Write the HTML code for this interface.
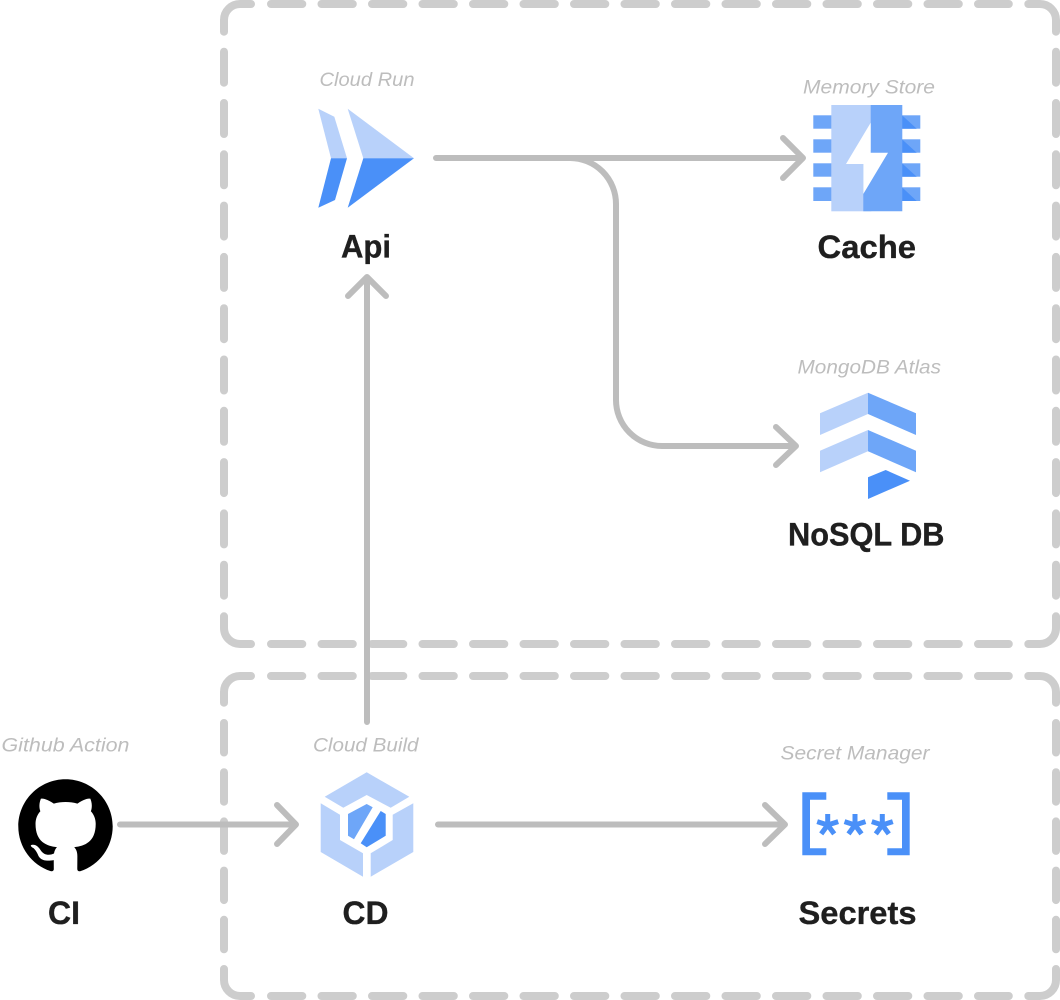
<!DOCTYPE html>
<html lang="en">
<head>
<meta charset="utf-8">
<title>Architecture diagram</title>
<style>
html,body{margin:0;padding:0;background:#fff;width:1060px;height:1000px;overflow:hidden}
svg{display:block}
.b{font-family:"Liberation Sans",sans-serif;font-weight:700;font-size:32px;fill:#1f1f1f;stroke:#1f1f1f;stroke-width:.35px}
.i{font-family:"Liberation Sans",sans-serif;font-style:italic;font-size:19px;fill:#bdbdbd}
.dh{stroke:#cdcdcd;stroke-width:8;stroke-linecap:round;fill:none;stroke-dasharray:31.3 19.2}
.dv{stroke:#cdcdcd;stroke-width:8;stroke-linecap:round;fill:none;stroke-dasharray:31 20.3}
.dw{stroke:#cdcdcd;stroke-width:8;stroke-linecap:round;fill:none;stroke-dasharray:29.5 19.7}
.c{stroke:#cdcdcd;stroke-width:8;stroke-linecap:round;stroke-linejoin:round;fill:none}
.a{stroke:#bdbdbd;stroke-width:6;stroke-linecap:round;stroke-linejoin:round;fill:none}
.l{fill:#b8d1fa}.m{fill:#6ea6f8}.d{fill:#4a90f8}
.s{stroke:#4a90f8;stroke-width:5;stroke-linecap:butt;fill:none}
</style>
</head>
<body>
<svg width="1060" height="1000" viewBox="0 0 1060 1000" xmlns="http://www.w3.org/2000/svg">
  <!-- top dashed box -->
  <path class="c" d="M224 31.7V20A16 16 0 0 1 240 4H251"/>
  <path class="c" d="M1028.3 4H1040A16 16 0 0 1 1056 20V31.7"/>
  <path class="c" d="M224 616.3V628A16 16 0 0 0 240 644H251"/>
  <path class="c" d="M1028.3 644H1040A16 16 0 0 0 1056 628V616.3"/>
  <line class="dh" x1="271" y1="4" x2="1008.8" y2="4"/>
  <line class="dh" x1="271" y1="644" x2="1008.8" y2="644"/>
  <line class="dv" x1="224" y1="51.7" x2="224" y2="595.7"/>
  <line class="dv" x1="1056" y1="51.7" x2="1056" y2="595.7"/>

  <!-- bottom dashed box -->
  <path class="c" d="M224 702.7V692A16 16 0 0 1 240 676H251"/>
  <path class="c" d="M1028.3 676H1040A16 16 0 0 1 1056 692V702.7"/>
  <path class="c" d="M224 969V980A16 16 0 0 0 240 996H251"/>
  <path class="c" d="M1028.3 996H1040A16 16 0 0 0 1056 980V969"/>
  <line class="dh" x1="271" y1="676" x2="1008.8" y2="676"/>
  <line class="dh" x1="271" y1="996" x2="1008.8" y2="996"/>
  <line class="dw" x1="224" y1="723" x2="224" y2="949.3"/>
  <line class="dw" x1="1056" y1="723" x2="1056" y2="949.3"/>

  <!-- connectors -->
  <path class="a" d="M436 158H802M783 138L803 158L783 178"/>
  <path class="a" d="M570 158A46 46 0 0 1 616 204V400A46 46 0 0 0 662 446H795M776 427L796 446L776 465"/>
  <path class="a" d="M367 722V278M348 296L367 277L386 296"/>
  <path class="a" d="M120 824.5H293M277 805L296 824.5L277 844"/>
  <path class="a" d="M438 824.5H784M765 805L785 824.5L765 844"/>

  <!-- Cloud Run -->
  <polygon class="l" points="318.3,108.7 334.3,116.7 347,158.3 331,158.3"/>
  <polygon class="d" points="331,158.3 347,158.3 335,200 318.3,207.7"/>
  <polygon class="l" points="347.7,108.7 414,158.3 363.3,158.3"/>
  <polygon class="d" points="363.3,158.3 414,158.3 347.7,207.7"/>

  <!-- Memory Store -->
  <rect class="m" x="813.3" y="115.3" width="18.5" height="13.4"/>
  <rect class="m" x="813.3" y="139.3" width="18.5" height="13.4"/>
  <rect class="m" x="813.3" y="163.3" width="18.5" height="13.4"/>
  <rect class="m" x="813.3" y="187.3" width="18.5" height="13.7"/>
  <rect class="m" x="902" y="115.3" width="18.3" height="13.4"/>
  <rect class="m" x="902" y="139.3" width="18.3" height="13.4"/>
  <rect class="m" x="902" y="163.3" width="18.3" height="13.4"/>
  <rect class="m" x="902" y="187.3" width="18.3" height="13.7"/>
  <polygon class="d" points="902,115.3 916.7,128.7 902,128.7"/>
  <polygon class="d" points="902,139.3 916.7,152.7 902,152.7"/>
  <polygon class="d" points="902,163.3 916.7,176.7 902,176.7"/>
  <polygon class="d" points="902,187.3 916.7,201 902,201"/>
  <rect class="l" x="831.3" y="105" width="40" height="106.3"/>
  <polygon class="m" points="870.7,105 902.3,105 902.3,211.3 863.3,211.3 863.3,164 870.7,150"/>
  <polygon fill="#fff" points="870.7,122.7 846,164 863.3,164 863.3,194 888,152.7 870.7,152.7"/>

  <!-- MongoDB Atlas -->
  <polygon class="l" points="820,413.3 868,392.7 868,414 820,435"/>
  <polygon class="m" points="868,392.7 916,413.3 916,435 868,414"/>
  <polygon class="l" points="820,450.7 868,430 868,451.3 820,472.3"/>
  <polygon class="m" points="868,430 916,450.7 916,472.3 868,451.3"/>
  <polygon class="d" points="868,477.3 885.7,470 910,480.7 868,499"/>

  <!-- GitHub -->
  <circle cx="65.5" cy="826" r="47.2" fill="#fff"/>
  <g transform="translate(18.3 779.2) scale(5.9)">
    <path fill="#000" d="M8 0C3.58 0 0 3.58 0 8c0 3.54 2.29 6.53 5.47 7.59.4.07.55-.17.55-.38 0-.19-.01-.82-.01-1.49-2.01.37-2.53-.49-2.69-.94-.09-.23-.48-.94-.82-1.13-.28-.15-.68-.52-.01-.53.63-.01 1.08.58 1.23.82.72 1.21 1.87.87 2.33.66.07-.52.28-.87.51-1.07-1.78-.2-3.64-.89-3.64-3.95 0-.87.31-1.59.82-2.15-.08-.2-.36-1.02.08-2.12 0 0 .67-.21 2.2.82.64-.18 1.32-.27 2-.27.68 0 1.36.09 2 .27 1.53-1.04 2.2-.82 2.2-.82.44 1.1.16 1.92.08 2.12.51.56.82 1.27.82 2.15 0 3.07-1.87 3.75-3.65 3.95.29.25.54.73.54 1.48 0 1.07-.01 1.93-.01 2.2 0 .21.15.46.55.38A8.013 8.013 0 0016 8c0-4.42-3.58-8-8-8z"/>
  </g>

  <!-- Cloud Build -->
  <polygon class="l" points="366.7,772.3 409.3,796.7 390.7,807.7 366.7,795 343.3,807.7 324.7,796.7"/>
  <polygon class="l" points="320.7,803.3 340,814.7 340,840 363,853.3 363,876.7 320.7,852"/>
  <polygon class="l" points="413.3,803.3 413.3,852 370.7,876.7 370.7,853.3 392.7,840 392.7,814.7"/>
  <polygon class="m" points="366.7,804 372.7,807.3 354,839.3 348,835.7 348,814"/>
  <polygon class="d" points="380.7,811 385.7,814 385.7,835.7 366.7,847.3 360.7,843.3"/>

  <!-- Secret Manager -->
  <polygon class="d" points="802.3,792.3 826.3,792.3 826.3,799.7 810,799.7 810,848.3 826.3,848.3 826.3,855.3 802.3,855.3"/>
  <polygon class="d" points="887.3,792.3 909.7,792.3 909.7,855.3 887.3,855.3 887.3,848.3 902,848.3 902,799.7 887.3,799.7"/>
  <g class="s" transform="translate(827.7 825)"><path d="M0 0V-11M0 0L10.5 -3.4M0 0L6.5 8.9M0 0L-6.5 8.9M0 0L-10.5 -3.4"/></g>
  <g class="s" transform="translate(855 825)"><path d="M0 0V-11M0 0L10.5 -3.4M0 0L6.5 8.9M0 0L-6.5 8.9M0 0L-10.5 -3.4"/></g>
  <g class="s" transform="translate(882.3 825)"><path d="M0 0V-11M0 0L10.5 -3.4M0 0L6.5 8.9M0 0L-6.5 8.9M0 0L-10.5 -3.4"/></g>

  <!-- italic labels -->
  <text class="i" x="319.5" y="86" textLength="95" lengthAdjust="spacingAndGlyphs">Cloud Run</text>
  <text class="i" x="803" y="93.5" textLength="132" lengthAdjust="spacingAndGlyphs">Memory Store</text>
  <text class="i" x="797.5" y="373.5" textLength="143.5" lengthAdjust="spacingAndGlyphs">MongoDB Atlas</text>
  <text class="i" x="1.5" y="751.5" textLength="128" lengthAdjust="spacingAndGlyphs">Github Action</text>
  <text class="i" x="313" y="751.5" textLength="105.5" lengthAdjust="spacingAndGlyphs">Cloud Build</text>
  <text class="i" x="780.5" y="759.5" textLength="149" lengthAdjust="spacingAndGlyphs">Secret Manager</text>

  <!-- bold labels -->
  <text class="b" x="341" y="257.5" textLength="50" lengthAdjust="spacingAndGlyphs">Api</text>
  <text class="b" x="817.5" y="258" textLength="98.5" lengthAdjust="spacingAndGlyphs">Cache</text>
  <text class="b" x="788" y="545.5" textLength="156.5" lengthAdjust="spacingAndGlyphs">NoSQL DB</text>
  <text class="b" x="48" y="924" textLength="32" lengthAdjust="spacingAndGlyphs">CI</text>
  <text class="b" x="342.5" y="924" textLength="46" lengthAdjust="spacingAndGlyphs">CD</text>
  <text class="b" x="798.5" y="924" textLength="118" lengthAdjust="spacingAndGlyphs">Secrets</text>
</svg>
</body>
</html>
